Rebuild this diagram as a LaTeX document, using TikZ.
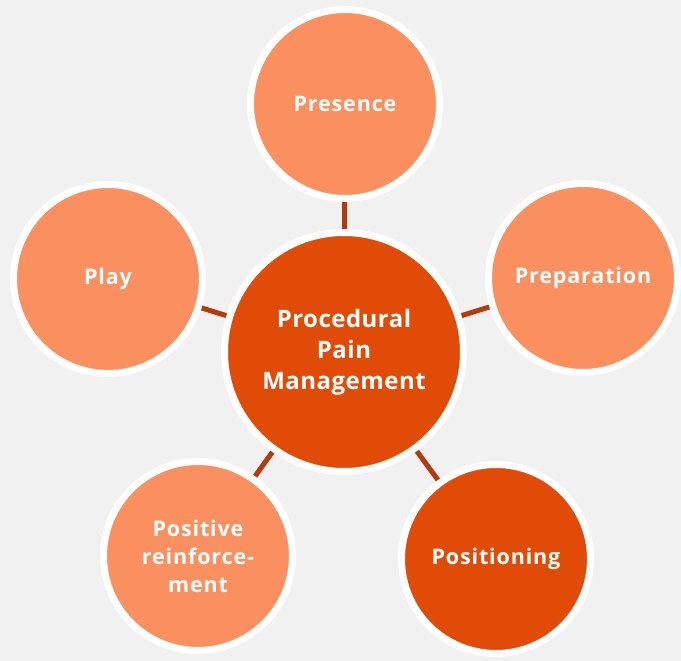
\documentclass[tikz,border=0pt]{standalone}
\usepackage{fontspec}
\setmainfont{Open Sans}
\usetikzlibrary{shadows}

\definecolor{bgray}{HTML}{F1F1F1}
\definecolor{lightor}{HTML}{FA8F5F}
\definecolor{darkor}{HTML}{E14B08}
\definecolor{linkred}{HTML}{B63B0C}

\tikzset{
  bubble/.style={circle, draw=white, line width=7pt, fill=lightor,
    minimum size=189pt, inner sep=0pt, align=center, text=white,
    font=\bfseries\addfontfeatures{LetterSpace=4}\fontsize{21.5}{28}\selectfont,
    drop shadow={opacity=0.22, shadow xshift=2pt, shadow yshift=-3pt}},
  hub/.style={bubble, fill=darkor, minimum size=239pt,
    font=\bfseries\addfontfeatures{LetterSpace=2}\fontsize{24}{31}\selectfont},
  link/.style={linkred, line width=5pt}
}

\begin{document}
\begin{tikzpicture}[x=1pt,y=-1pt]
    \fill[bgray] (0,0) rectangle (681,661);
    \useasboundingbox (0,0) rectangle (681,661);
    % spokes first, the bubbles cover their ends
    \coordinate (c0) at (344,352);
    \coordinate (c1) at (345,104);
    \coordinate (c2) at (583,278);
    \coordinate (c3) at (496,559);
    \coordinate (c4) at (198,556);
    \coordinate (c5) at (108,279);
    \foreach \i in {1,...,5}
    \draw[link] (c0) -- (c\i);
    % outer ring
    \node[bubble] (presence) at (c1) {Presence};
    \node[bubble] (prep) at (c2) {Preparation};
    \node[bubble, fill=darkor] (posit) at (c3) {Positioning};
    \node[bubble] (reinf) at (c4) {Positive\\reinforce-\\ment};
    \node[bubble] (play) at (c5) {Play};
    % centre
    \node[hub] (ppm) at (c0) {Procedural\\Pain\\Management};
\end{tikzpicture}
\end{document}
